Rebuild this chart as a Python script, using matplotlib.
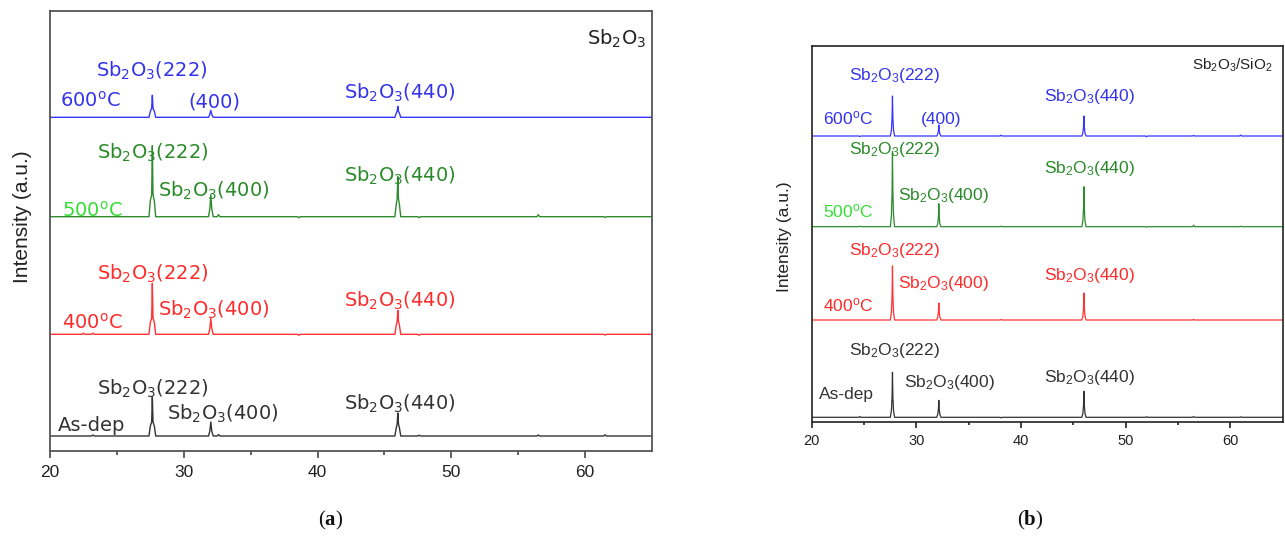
import matplotlib
matplotlib.use("Agg")
import matplotlib.pyplot as plt

plt.rcParams['font.family'] = ['Liberation Sans', 'DejaVu Sans']
plt.rcParams['mathtext.default'] = 'regular'
plt.rcParams['mathtext.fontset'] = 'custom'
plt.rcParams['mathtext.bf'] = 'Liberation Serif:bold'

# ---------------- data ----------------
series_names = ["As-dep", "400$^o$C", "500$^o$C", "600$^o$C"]

# panel (a): Sb2O3
twotheta_a = [20.0, 22.4, 22.5, 22.6, 23.1, 23.2, 23.3,
              27.40, 27.50, 27.60, 27.65, 27.70, 27.80, 27.90,
              31.85, 31.95, 32.02, 32.09, 32.20,
              32.5, 32.6, 32.7, 38.5, 38.6, 38.7,
              45.78, 45.88, 45.95, 46.00, 46.05, 46.12, 46.22,
              47.5, 47.6, 47.7, 56.4, 56.5, 56.6, 61.4, 61.5, 61.6, 65.0]
asdep_a = [0, 0, 0, 0, 0, 1, 0, 0, 10, 14, 39, 14, 10, 0, 0, 5, 14, 5, 0,
           0, 1.5, 0, 0, 0, 0, 0, 8, 12, 23, 12, 8, 0, 0, 0.8, 0, 0, 1, 0, 0, 1.2, 0, 0]
t400_a = [0, 0, 1.2, 0, 0, 1.2, 0, 0, 12, 16, 51, 16, 12, 0, 0, 6, 16, 6, 0,
          0, 0, 0, 0, -1, 0, 0, 9, 13, 24, 13, 9, 0, 0, -1, 0, 0, 0, 0, 0, -0.8, 0, 0]
t500_a = [0, 0, 0, 0, 0, 0, 0, 0, 16, 22, 71, 22, 16, 0, 0, 8, 22, 8, 0,
          0, 2, 0, 0, -1, 0, 0, 12, 18, 40, 18, 12, 0, 0, -1, 0, 0, 2, 0, 0, -0.8, 0, 0]
t600_a = [0, 0, 0, 0, 0, 0, 0, 0, 6, 9, 22, 9, 6, 0, 0, 3, 7, 3, 0,
          0, 0, 0, 0, 0, 0, 0, 4, 6, 11, 6, 4, 0, 0, 0, 0, 0, 0, 0, 0, 0, 0, 0]
offsets_a = [14.7, 116.4, 234.0, 333.4]

# panel (b): Sb2O3/SiO2
twotheta_b = [20.0, 24.5, 24.6, 24.7,
              27.52, 27.62, 27.68, 27.72, 27.76, 27.82, 27.92,
              31.95, 32.05, 32.11, 32.15, 32.19, 32.25, 32.35,
              38.0, 38.1, 38.2,
              45.82, 45.92, 45.98, 46.02, 46.06, 46.12, 46.22,
              51.9, 52.0, 52.1, 56.4, 56.5, 56.6, 60.9, 61.0, 61.1, 65.0]
asdep_b = [0, 0, 0.8, 0, 0, 7, 20, 45, 20, 7, 0, 0, 3, 8, 17, 8, 3, 0,
           0, -0.6, 0, 0, 4, 12, 26, 12, 4, 0, 0, 0.6, 0, 0, 0.8, 0, 0, 0.5, 0, 0]
t400_b = [0, 0, 0, 0, 0, 8, 24, 54, 24, 8, 0, 0, 3, 8, 17, 8, 3, 0,
          0, 0.5, 0, 0, 4, 12, 27, 12, 4, 0, 0, 0, 0, 0, 0.6, 0, 0, 0, 0, 0]
t500_b = [0, 0, 0.6, 0, 0, 11, 34, 75, 34, 11, 0, 0, 3, 10, 23, 10, 3, 0,
          0, 0.5, 0, 0, 6, 18, 40, 18, 6, 0, 0, -0.5, 0, 0, 1.5, 0, 0, 0.5, 0, 0]
t600_b = [0, 0, -0.6, 0, 0, 6, 18, 40, 18, 6, 0, 0, 2, 5, 11, 5, 2, 0,
          0, 0.8, 0, 0, 3, 9, 20, 9, 3, 0, 0, -0.8, 0, 0, 0.6, 0, 0, 1, 0, 0]
offsets_b = [4.4, 101.7, 195.0, 285.7]

xticks = [20, 30, 40, 50, 60]
lbl222 = "Sb$_2$O$_3$(222)"
lbl400 = "Sb$_2$O$_3$(400)"
lbl440 = "Sb$_2$O$_3$(440)"

# ---------------- styles ----------------
line_colors = ["#333333", "#ff3333", "#2e8b2e", "#3535ff"]
text_colors = ["#333333", "#ff2a2a", "#2a8a2a", "#3333ee"]
temp_colors = ["#333333", "#ff2a2a", "#33e033", "#3333ee"]

W, H = 1285, 536
fig = plt.figure(figsize=(W / 100, H / 100), dpi=100)

def px_axes(l, t, r, b):
    return fig.add_axes([l / W, 1 - b / H, (r - l) / W, (b - t) / H])

ax_a = px_axes(50, 10.7, 652, 450.7)
ax_b = px_axes(811.7, 45.7, 1282.5, 421.7)

data_a = [asdep_a, t400_a, t500_a, t600_a]
data_b = [asdep_b, t400_b, t500_b, t600_b]

for ys, off, c in zip(data_a, offsets_a, line_colors):
    ax_a.plot(twotheta_a, [v + off for v in ys], color=c, lw=1.0)
for ys, off, c in zip(data_b, offsets_b, line_colors):
    ax_b.plot(twotheta_b, [v + off for v in ys], color=c, lw=0.9)

ax_a.set_xlim(20, 65)
ax_a.set_ylim(0, 440)
ax_b.set_xlim(20, 65)
ax_b.set_ylim(0, 376)

for ax, sc, fs, lw, ml, mnl in [(ax_a, "#555555", 12.5, 1.3, 5, 3),
                                 (ax_b, "#222222", 10.5, 1.2, 4, 2.5)]:
    ax.set_xticks(xticks)
    ax.set_xticks(range(25, 65, 10), minor=True)
    ax.set_yticks([])
    for s in ax.spines.values():
        s.set_color(sc)
        s.set_linewidth(lw)
    ax.tick_params(axis='x', which='major', direction='out', length=ml,
                   width=lw, color=sc, labelsize=fs, pad=5, labelcolor="#222222")
    ax.tick_params(axis='x', which='minor', direction='out', length=mnl,
                   width=lw, color=sc)

# y labels
fig.text(22 / W, 1 - 217 / H, "Intensity (a.u.)", rotation=90, ha='center',
         va='center', fontsize=15, family="Liberation Sans", color="#222222")
fig.text(784 / W, 1 - 237 / H, "Intensity (a.u.)", rotation=90, ha='center',
         va='center', fontsize=12.5, family="Liberation Sans", color="#222222")

# panel (a) annotations
fa = dict(fontsize=14, family="DejaVu Sans", ha='left', va='baseline')
ann_a = [
    (lbl222, 23.44, 373.7, 3), (series_names[3], 20.75, 343.7, -3),
    ("(400)", 30.32, 343.7, 3), (lbl440, 41.98, 351.7, 3),
    (lbl222, 23.51, 292.4, 2), (lbl400, 28.07, 254.0, 2),
    (lbl440, 41.98, 269.0, 2), (series_names[2], 20.9, 234.0, -2),
    (lbl222, 23.51, 170.7, 1), (lbl400, 28.07, 134.7, 1),
    (series_names[1], 20.9, 122.4, -1), (lbl440, 41.98, 144.0, 1),
    (lbl222, 23.51, 55.7, 0), (lbl400, 28.75, 30.7, 0),
    (series_names[0], 20.6, 20.0, 0), (lbl440, 41.98, 40.7, 0),
]
for txt, x, y, ci in ann_a:
    col = temp_colors[-ci] if ci < 0 else text_colors[ci]
    ax_a.text(x, y, txt, color=col, **fa)
ax_a.text(60.14, 405.7, "Sb$_2$O$_3$", color="#222222", **fa)

# panel (b) annotations
fb = dict(fontsize=12.5, family="Liberation Sans", ha='left', va='baseline')
ann_b = [
    (lbl222, 23.57, 341.7, 3), (series_names[3], 21.07, 297.7, -3),
    ("(400)", 30.45, 297.7, 3), (lbl440, 42.21, 321.0, 3),
    (lbl222, 23.57, 267.7, 2), (lbl400, 28.25, 221.7, 2),
    (lbl440, 42.21, 248.4, 2), (series_names[2], 21.07, 204.4, -2),
    (lbl222, 23.57, 166.7, 1), (lbl400, 28.25, 133.4, 1),
    (series_names[1], 21.07, 110.7, -1), (lbl440, 42.21, 141.7, 1),
    (lbl222, 23.57, 66.7, 0), (lbl400, 28.82, 35.0, 0),
    (series_names[0], 20.7, 22.4, 0), (lbl440, 42.21, 40.0, 0),
]
for txt, x, y, ci in ann_b:
    col = temp_colors[-ci] if ci < 0 else text_colors[ci]
    ax_b.text(x, y, txt, color=col, **fb)
ax_b.text(56.34, 352.4, "Sb$_2$O$_3$/SiO$_2$", color="#222222",
          **dict(fb, fontsize=11))

# panel letters
fig.text(331 / W, 1 - 520 / H, r"($\mathbf{a}$)", ha='center', va='center',
         fontsize=15, family="Liberation Serif", color="#111111")
fig.text(1030 / W, 1 - 520 / H, r"($\mathbf{b}$)", ha='center', va='center',
         fontsize=15, family="Liberation Serif", color="#111111")

fig.savefig("out.png", dpi=100)
